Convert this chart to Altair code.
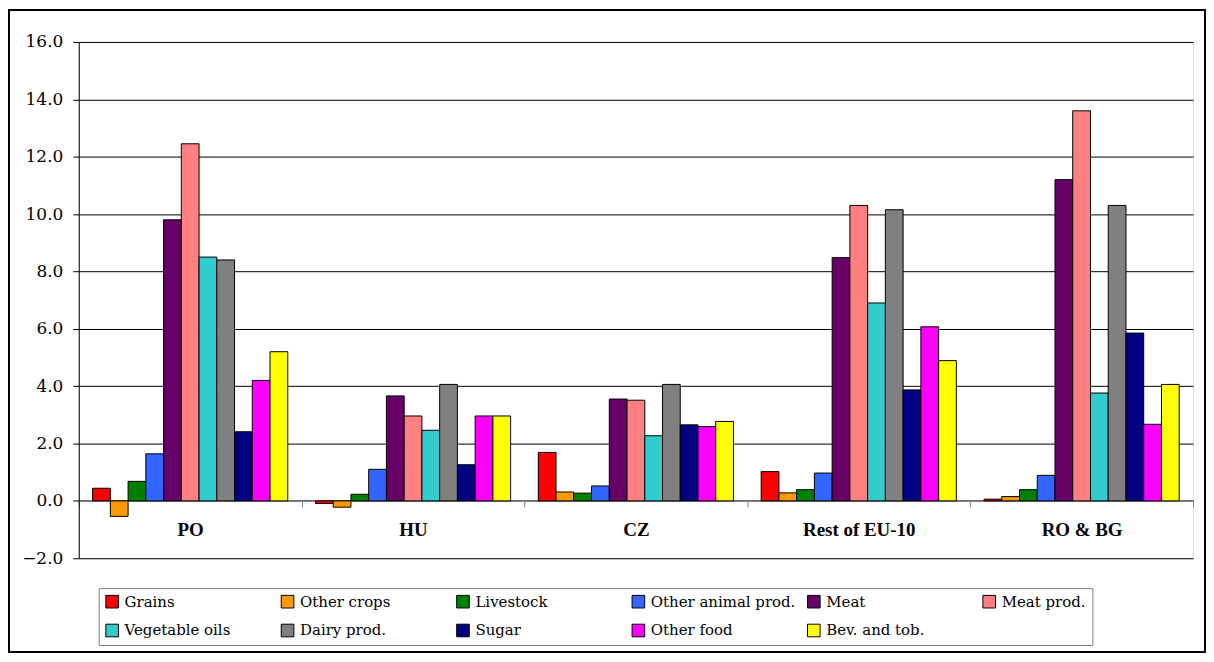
import altair as alt
import pandas as pd

regions = ["PO", "HU", "CZ", "Rest of EU-10", "RO & BG"]
sectors = ["Grains", "Other crops", "Livestock", "Other animal prod.", "Meat",
           "Meat prod.", "Vegetable oils", "Dairy prod.", "Sugar", "Other food",
           "Bev. and tob."]
colors = ["#FF0000", "#FF9900", "#008000", "#3366FF", "#660066", "#FF8080",
          "#33CCCC", "#808080", "#000080", "#FF00FF", "#FFFF00"]

po = [0.44, -0.54, 0.68, 1.64, 9.8, 12.45, 8.5, 8.4, 2.41, 4.2, 5.2]
hu = [-0.09, -0.22, 0.23, 1.1, 3.66, 2.96, 2.46, 4.06, 1.26, 2.96, 2.96]
cz = [1.69, 0.31, 0.27, 0.52, 3.55, 3.51, 2.27, 4.06, 2.65, 2.59, 2.77]
rest = [1.02, 0.28, 0.39, 0.97, 8.48, 10.3, 6.9, 10.15, 3.87, 6.07, 4.89]
robg = [0.06, 0.15, 0.39, 0.89, 11.2, 13.6, 3.76, 10.3, 5.85, 2.67, 4.06]

y_ticks = [-2, 0, 2, 4, 6, 8, 10, 12, 14, 16]

series = [po, hu, cz, rest, robg]
rows = []
for r, vals in zip(regions, series):
    for s, v in zip(sectors, vals):
        rows.append({"region": r, "sector": s, "value": v})
df = pd.DataFrame(rows)

BOLD_FONT = "Liberation Serif"
REG_FONT = "DejaVu Serif"
W = 1118
H = 518
zero_offset = -(H - H * 16 / 18)

bars = alt.Chart(df).mark_bar(stroke="black", strokeWidth=1).encode(
    x=alt.X("region:N", sort=regions, title=None,
            scale=alt.Scale(paddingInner=0, paddingOuter=0),
            axis=alt.Axis(orient="bottom", offset=zero_offset, tickBand="extent",
                          domainColor="#808080", tickColor="#808080", tickSize=6,
                          labelFont=BOLD_FONT, labelFontSize=19,
                          labelFontWeight="bold", labelColor="black",
                          labelPadding=14, labelAngle=0, grid=False)),
    xOffset=alt.XOffset("sector:N", sort=sectors,
                        scale=alt.Scale(paddingInner=0, paddingOuter=0.78)),
    y=alt.Y("value:Q", title=None,
            scale=alt.Scale(domain=[-2, 16], nice=False, zero=False),
            axis=alt.Axis(values=y_ticks, format=".1f", grid=True,
                          gridColor="black", gridWidth=1,
                          domainColor="black", tickColor="black", tickSize=6,
                          labelFont=REG_FONT, labelFontSize=17,
                          labelColor="black", labelPadding=10)),
    color=alt.Color("sector:N", sort=sectors,
                    scale=alt.Scale(domain=sectors, range=colors),
                    legend=alt.Legend(orient="none", legendX=20, legendY=548,
                                      direction="horizontal", columns=6,
                                      gridAlign="all", columnPadding=9,
                                      rowPadding=12, title=None,
                                      symbolType="square", symbolSize=160,
                                      symbolStrokeColor="black",
                                      symbolStrokeWidth=1, symbolOpacity=1,
                                      labelFont=REG_FONT,
                                      labelFontSize=15, labelColor="black",
                                      labelLimit=300, labelOffset=5,
                                      strokeColor="#808080", padding=6)),
)

frame = alt.Chart(pd.DataFrame({"a": [0]})).mark_rect(
    fill=None, stroke="black", strokeWidth=2
).encode(
    x=alt.value(-70), x2=alt.value(1130),
    y=alt.value(-32), y2=alt.value(612),
)

chart = alt.layer(bars, frame).properties(
    width=W, height=H, padding=0
).configure_view(stroke="black", strokeWidth=1).configure(
    background="white", font=BOLD_FONT
)

chart.save("out.html", embed_options={"renderer": "svg", "actions": False})
